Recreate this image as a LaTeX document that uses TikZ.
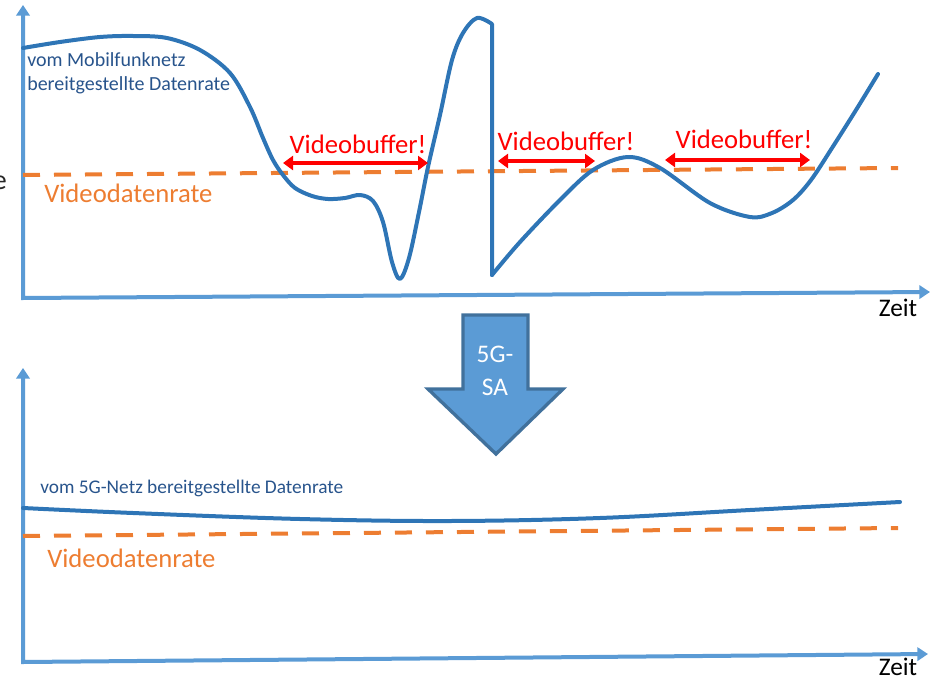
\documentclass[tikz,border=0pt]{standalone}
\usepackage{fontspec}
\setmainfont{Carlito}
\usetikzlibrary{arrows.meta}
\definecolor{axisblue}{RGB}{91,155,213}
\definecolor{rateblue}{RGB}{46,117,182}
\definecolor{labelblue}{RGB}{40,84,140}
\definecolor{videoorange}{RGB}{237,125,49}
\definecolor{arrowedge}{RGB}{65,113,156}
\definecolor{cutgray}{RGB}{40,40,40}
\begin{document}
\begin{tikzpicture}[x=0.75pt,y=-0.75pt,
  axisline/.style={draw=axisblue, line width=3pt, line join=miter,
    {Triangle[length=8pt,width=10pt]}-{Triangle[length=8pt,width=10pt]}},
  ratecurve/.style={draw=rateblue, line width=3pt, line cap=round, line join=round},
  videoline/.style={draw=videoorange, line width=3pt, dash pattern=on 12.75pt off 10.5pt},
  bufferarrow/.style={draw=red, line width=3pt,
    {Triangle[length=7.5pt,width=10.5pt]}-{Triangle[length=7.5pt,width=10.5pt]}},
  videolabel/.style={text=videoorange, inner sep=0pt, font=\fontsize{20}{24}\selectfont},
  bufferlabel/.style={text=red, inner sep=0pt, font=\fontsize{20}{24}\selectfont},
  ratelabel/.style={text=labelblue, inner sep=0pt, align=left},
  timelabel/.style={text=black, inner sep=0pt, font=\fontsize{19}{22}\selectfont},
  bigarrow/.style={fill=axisblue, draw=arrowedge, line width=2.5pt, line join=miter},
]
\useasboundingbox (0,0) rectangle (934,681);

% ---------- upper chart ----------
\coordinate (ytopA) at (23,5);
\coordinate (originA) at (23,298);
\coordinate (xendA) at (930,292);
\draw[axisline] (ytopA) -- (originA) -- (xendA);

% axis caption running off the left edge
\node[text=cutgray, inner sep=0pt, anchor=base east, font=\fontsize{21}{24}\selectfont] (ycut) at (7,189) {e};

% video data rate (dashed)
\coordinate (vidA1) at (23,175);
\coordinate (vidA2) at (898,168);
\draw[videoline] (vidA1) -- (vidA2);

% fluctuating mobile network data rate
\draw[ratecurve] plot[smooth, tension=0.55] coordinates {
  (23,48) (60,42) (100,37) (133,36) (167,38) (200,50) (230,73) (250,107)
  (263,138) (273,160) (283,175) (295,188) (312,196) (328,199) (345,198)
  (360,195) (373,201) (383,222) (392,262) (400,279) (409,258) (419,212)
  (428,167) (440,115) (452,60) (463,33) (477,18) (492,24)}
  -- (492,275);
\draw[ratecurve] plot[smooth, tension=0.55] coordinates {
  (492,275) (520,242) (560,200) (593,170) (628,157) (660,168) (710,203)
  (750,217) (772,213) (793,200) (811,180) (832,148) (856,110) (878,74)};

\node[ratelabel, anchor=base west, font=\fontsize{15}{18}\selectfont] (mobileA) at (27,67) {vom Mobilfunknetz};
\node[ratelabel, anchor=base west, font=\fontsize{15}{18}\selectfont] (mobileB) at (27,91) {bereitgestellte Datenrate};
\node[videolabel, anchor=base west] (videoA) at (44,202) {Videodatenrate};

% buffering intervals
\coordinate (bufL1) at (283,163);
\coordinate (bufR1) at (428,163);
\coordinate (bufL2) at (498,161);
\coordinate (bufR2) at (595,161);
\coordinate (bufL3) at (665,160);
\coordinate (bufR3) at (810,160);
\draw[bufferarrow] (bufL1) -- (bufR1);
\draw[bufferarrow] (bufL2) -- (bufR2);
\draw[bufferarrow] (bufL3) -- (bufR3);
\node[bufferlabel, anchor=base] (buf1) at (358,153) {Videobuffer!};
\node[bufferlabel, anchor=base] (buf2) at (566,151) {Videobuffer!};
\node[bufferlabel, anchor=base] (buf3) at (744,149) {Videobuffer!};

\node[timelabel, anchor=base] (zeitA) at (898,316) {Zeit};

% ---------- transition arrow ----------
\draw[bigarrow] (463,315) -- (528,315) -- (528,389) -- (563,389) -- (496,454)
  -- (428,389) -- (463,389) -- cycle;
\node[text=white, inner sep=0pt, align=center, font=\fontsize{19}{25}\selectfont] (sa) at (495,371) {5G-\\SA};

% ---------- lower chart ----------
\coordinate (ytopB) at (23,368);
\coordinate (originB) at (23,662);
\coordinate (xendB) at (928,654);
\draw[axisline] (ytopB) -- (originB) -- (xendB);

\coordinate (vidB1) at (23,536);
\coordinate (vidB2) at (898,528);
\draw[videoline] (vidB1) -- (vidB2);

\draw[ratecurve] plot[smooth, tension=0.6] coordinates {
  (23,508) (133,513) (300,519) (450,521) (600,518) (750,510) (900,502)};

\node[ratelabel, anchor=base west, font=\fontsize{14.5}{18}\selectfont] (fiveg) at (40,493) {vom 5G-Netz bereitgestellte Datenrate};
\node[videolabel, anchor=base west] (videoB) at (47,567) {Videodatenrate};
\node[timelabel, anchor=base] (zeitB) at (898,675) {Zeit};
\end{tikzpicture}
\end{document}
